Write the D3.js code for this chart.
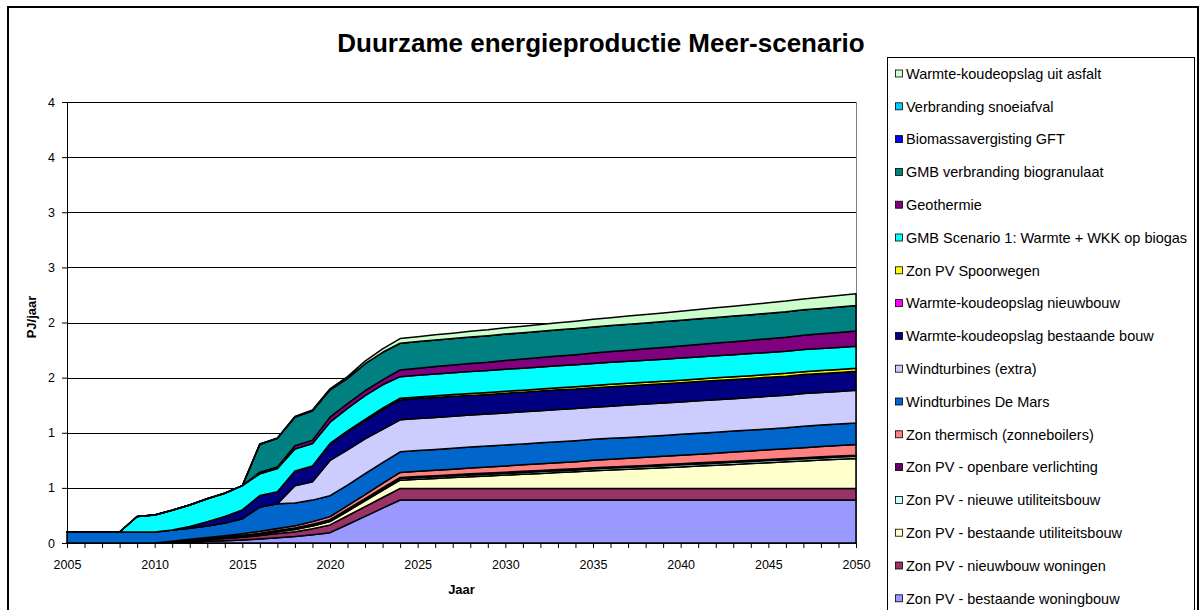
<!DOCTYPE html>
<html>
<head>
<meta charset="utf-8">
<script src="https://cdn.jsdelivr.net/npm/d3@7"></script>
<style>
  body { margin: 0; background: #fff; }
  text { font-family: "Liberation Sans", Arial, sans-serif; fill: #000; }
</style>
</head>
<body>
<div id="chart"></div>
<script>
// years on the x axis
var years = [2005, 2006, 2007, 2008, 2009, 2010, 2011, 2012, 2013, 2014, 2015, 2016, 2017, 2018, 2019,
  2020, 2021, 2022, 2023, 2024, 2025, 2026, 2027, 2028, 2029, 2030, 2031, 2032, 2033, 2034, 2035,
  2036, 2037, 2038, 2039, 2040, 2041, 2042, 2043, 2044, 2045, 2046, 2047, 2048, 2049, 2050];

// series values, PJ/jaar, bottom of the stack first
var zonPvBestaandeWoningbouw = [0, 0, 0, 0, 0, 0, 0.005, 0.01, 0.015, 0.02, 0.027, 0.037, 0.048, 0.058, 0.075,
  0.094, 0.168, 0.242, 0.316, 0.39, 0.39, 0.39, 0.39, 0.39, 0.39, 0.39, 0.39, 0.39, 0.39, 0.39, 0.39,
  0.39, 0.39, 0.39, 0.39, 0.39, 0.39, 0.39, 0.39, 0.39, 0.39, 0.39, 0.39, 0.39, 0.39, 0.39];
var zonPvNieuwbouwWoningen = [0, 0, 0, 0, 0, 0, 0.005, 0.01, 0.015, 0.02, 0.025, 0.03, 0.038, 0.045, 0.055,
  0.07, 0.079, 0.088, 0.097, 0.105, 0.105, 0.105, 0.105, 0.105, 0.105, 0.105, 0.105, 0.105, 0.105, 0.105, 0.105,
  0.105, 0.105, 0.105, 0.105, 0.105, 0.105, 0.105, 0.105, 0.105, 0.105, 0.105, 0.105, 0.105, 0.105, 0.105];
var zonPvBestaandeUtiliteit = [0, 0, 0, 0, 0, 0, 0.002, 0.004, 0.006, 0.008, 0.01, 0.013, 0.016, 0.02, 0.025,
  0.03, 0.041, 0.052, 0.064, 0.075, 0.083, 0.09, 0.098, 0.106, 0.113, 0.121, 0.128, 0.136, 0.144, 0.151, 0.16,
  0.167, 0.174, 0.181, 0.188, 0.195, 0.203, 0.21, 0.218, 0.226, 0.233, 0.241, 0.249, 0.257, 0.264, 0.272];
var zonPvNieuweUtiliteit = [0, 0, 0, 0, 0, 0, 0.001, 0.002, 0.003, 0.004, 0.005, 0.006, 0.007, 0.009, 0.01,
  0.012, 0.013, 0.013, 0.014, 0.015, 0.015, 0.015, 0.016, 0.016, 0.016, 0.016, 0.017, 0.017, 0.017, 0.017, 0.018,
  0.018, 0.018, 0.018, 0.018, 0.019, 0.019, 0.019, 0.019, 0.019, 0.02, 0.02, 0.02, 0.02, 0.02, 0.02];
var zonPvOpenbareVerlichting = [0, 0, 0, 0, 0, 0, 0.001, 0.001, 0.002, 0.002, 0.003, 0.003, 0.004, 0.004, 0.005,
  0.006, 0.007, 0.008, 0.009, 0.01, 0.01, 0.01, 0.01, 0.01, 0.01, 0.01, 0.01, 0.01, 0.01, 0.01, 0.01,
  0.01, 0.01, 0.01, 0.01, 0.01, 0.01, 0.01, 0.01, 0.01, 0.01, 0.01, 0.01, 0.01, 0.01, 0.01];
var zonThermisch = [0, 0, 0, 0, 0, 0, 0.003, 0.006, 0.009, 0.012, 0.015, 0.017, 0.019, 0.021, 0.024,
  0.027, 0.031, 0.036, 0.04, 0.045, 0.047, 0.049, 0.051, 0.053, 0.055, 0.057, 0.059, 0.061, 0.063, 0.065, 0.067,
  0.069, 0.071, 0.073, 0.075, 0.077, 0.079, 0.081, 0.083, 0.085, 0.087, 0.089, 0.091, 0.093, 0.095, 0.097];
var windturbinesDeMars = [0.1, 0.1, 0.1, 0.1, 0.1, 0.1, 0.1, 0.1, 0.105, 0.115, 0.135, 0.22, 0.225, 0.205, 0.195,
  0.19, 0.185, 0.19, 0.19, 0.187, 0.19, 0.19, 0.19, 0.19, 0.19, 0.19, 0.19, 0.19, 0.19, 0.19, 0.19,
  0.19, 0.19, 0.19, 0.19, 0.19, 0.19, 0.19, 0.19, 0.19, 0.19, 0.19, 0.195, 0.195, 0.195, 0.195];
var windturbinesExtra = [0, 0, 0, 0, 0, 0, 0, 0, 0, 0, 0, 0, 0, 0.157, 0.166,
  0.32, 0.32, 0.315, 0.3, 0.29, 0.29, 0.29, 0.29, 0.29, 0.29, 0.291, 0.291, 0.291, 0.292, 0.292, 0.292,
  0.292, 0.293, 0.293, 0.293, 0.293, 0.294, 0.294, 0.294, 0.294, 0.295, 0.295, 0.295, 0.295, 0.296, 0.296];
var wkoBestaandeBouw = [0, 0, 0, 0, 0, 0, 0, 0.016, 0.039, 0.06, 0.08, 0.105, 0.108, 0.134, 0.144,
  0.151, 0.166, 0.167, 0.18, 0.181, 0.18, 0.18, 0.18, 0.179, 0.179, 0.179, 0.178, 0.178, 0.178, 0.177, 0.177,
  0.177, 0.176, 0.176, 0.176, 0.175, 0.175, 0.175, 0.174, 0.174, 0.174, 0.173, 0.173, 0.173, 0.172, 0.172];
var wkoNieuwbouw = [0, 0, 0, 0, 0, 0, 0, 0, 0, 0, 0, 0, 0, 0, 0,
  0, 0, 0, 0, 0, 0, 0, 0, 0, 0, 0, 0, 0, 0, 0, 0,
  0, 0, 0, 0, 0, 0, 0, 0, 0, 0, 0, 0, 0, 0, 0];
var zonPvSpoorwegen = [0, 0, 0, 0, 0, 0, 0, 0, 0, 0, 0, 0, 0, 0, 0,
  0.003, 0.006, 0.01, 0.013, 0.015, 0.015, 0.016, 0.016, 0.017, 0.017, 0.018, 0.018, 0.019, 0.019, 0.02, 0.02,
  0.021, 0.021, 0.022, 0.022, 0.023, 0.023, 0.024, 0.024, 0.025, 0.025, 0.026, 0.026, 0.027, 0.027, 0.027];
var gmbWarmteWkk = [0, 0, 0, 0, 0.14, 0.154, 0.18, 0.196, 0.207, 0.21, 0.22, 0.197, 0.211, 0.2, 0.204,
  0.193, 0.205, 0.215, 0.212, 0.196, 0.197, 0.198, 0.198, 0.199, 0.199, 0.2, 0.2, 0.2, 0.2, 0.2, 0.2,
  0.2, 0.2, 0.2, 0.2, 0.2, 0.2, 0.2, 0.2, 0.2, 0.2, 0.2, 0.2, 0.2, 0.2, 0.2];
var geothermie = [0, 0, 0, 0, 0, 0, 0, 0, 0, 0, 0, 0.015, 0.013, 0.029, 0.03,
  0.046, 0.044, 0.045, 0.045, 0.061, 0.064, 0.067, 0.07, 0.073, 0.076, 0.079, 0.082, 0.085, 0.088, 0.091, 0.094,
  0.097, 0.1, 0.103, 0.106, 0.109, 0.112, 0.115, 0.118, 0.121, 0.124, 0.127, 0.13, 0.133, 0.136, 0.14];
var gmbBiogranulaat = [0, 0, 0, 0, 0, 0, 0, 0, 0, 0, 0, 0.253, 0.26, 0.261, 0.266,
  0.248, 0.228, 0.245, 0.25, 0.242, 0.241, 0.241, 0.24, 0.24, 0.24, 0.239, 0.239, 0.238, 0.238, 0.237, 0.237,
  0.236, 0.236, 0.235, 0.235, 0.234, 0.234, 0.233, 0.233, 0.232, 0.232, 0.231, 0.231, 0.23, 0.23, 0.23];
var biomassavergistingGft = [0, 0, 0, 0, 0, 0, 0, 0, 0, 0, 0, 0, 0, 0, 0,
  0, 0, 0, 0, 0, 0, 0, 0, 0, 0, 0, 0, 0, 0, 0, 0,
  0, 0, 0, 0, 0, 0, 0, 0, 0, 0, 0, 0, 0, 0, 0];
var verbrandingSnoeiafval = [0, 0, 0, 0, 0, 0, 0, 0, 0, 0, 0, 0, 0, 0, 0,
  0, 0, 0, 0, 0, 0, 0, 0, 0, 0, 0, 0, 0, 0, 0, 0,
  0, 0, 0, 0, 0, 0, 0, 0, 0, 0, 0, 0, 0, 0, 0];
var wkoAsfalt = [0, 0, 0, 0, 0, 0, 0, 0, 0, 0, 0, 0.003, 0.004, 0.005, 0.007,
  0.009, 0.016, 0.024, 0.031, 0.042, 0.044, 0.047, 0.049, 0.052, 0.054, 0.057, 0.059, 0.062, 0.064, 0.067, 0.069,
  0.072, 0.074, 0.077, 0.079, 0.082, 0.084, 0.087, 0.089, 0.092, 0.094, 0.097, 0.099, 0.102, 0.104, 0.106];

var seriesNames = ["Zon PV - bestaande woningbouw", "Zon PV - nieuwbouw woningen",
  "Zon PV - bestaande utiliteitsbouw", "Zon PV - nieuwe utiliteitsbouw", "Zon PV - openbare verlichting",
  "Zon thermisch (zonneboilers)", "Windturbines De Mars", "Windturbines (extra)",
  "Warmte-koudeopslag bestaande bouw", "Warmte-koudeopslag nieuwbouw", "Zon PV Spoorwegen",
  "GMB Scenario 1: Warmte + WKK op biogas", "Geothermie", "GMB verbranding biogranulaat",
  "Biomassavergisting GFT", "Verbranding snoeiafval", "Warmte-koudeopslag uit asfalt"];
var seriesValues = [zonPvBestaandeWoningbouw, zonPvNieuwbouwWoningen, zonPvBestaandeUtiliteit,
  zonPvNieuweUtiliteit, zonPvOpenbareVerlichting, zonThermisch, windturbinesDeMars, windturbinesExtra,
  wkoBestaandeBouw, wkoNieuwbouw, zonPvSpoorwegen, gmbWarmteWkk, geothermie, gmbBiogranulaat,
  biomassavergistingGft, verbrandingSnoeiafval, wkoAsfalt];
var seriesColors = ["#9999ff", "#993366", "#ffffcc", "#ccffff", "#660066", "#ff8080", "#0066cc", "#ccccff",
  "#000080", "#ff00ff", "#ffff00", "#00ffff", "#800080", "#008080", "#0000ff", "#00ccff", "#ccffcc"];

var yTicks = [0, 0.5, 1, 1.5, 2, 2.5, 3, 3.5, 4];
var yTickLabels = ["0", "1", "1", "2", "2", "3", "3", "4", "4"];
var xLabelYears = [2005, 2010, 2015, 2020, 2025, 2030, 2035, 2040, 2045, 2050];

var svgWidth = 1203;
var svgHeight = 610;
var margin = { top: 102, right: 347, bottom: 67, left: 67 };
var width = svgWidth - margin.left - margin.right;   // 789
var height = svgHeight - margin.top - margin.bottom; // 441

var svg = d3.select("#chart").append("svg")
  .attr("width", svgWidth)
  .attr("height", svgHeight);

// outer chart frame
svg.append("rect")
  .attr("x", 8).attr("y", 7)
  .attr("width", 1190).attr("height", 640)
  .attr("fill", "none")
  .attr("stroke", "#000")
  .attr("stroke-width", 2);

svg.append("text")
  .attr("x", 601)
  .attr("y", 52)
  .attr("text-anchor", "middle")
  .style("font-size", "26px")
  .style("font-weight", "bold")
  .text("Duurzame energieproductie Meer-scenario");

var chart = svg.append("g")
  .attr("transform", `translate(${margin.left}, ${margin.top})`);

var xScale = d3.scaleLinear().domain([2005, 2050]).range([0, width]);
var yScale = d3.scaleLinear().domain([0, 4]).range([height, 0]);

// gridlines
chart.append("g")
  .selectAll("line")
  .data(yTicks.slice(1))
  .enter().append("line")
  .attr("x1", 0).attr("x2", width)
  .attr("y1", d => Math.round(yScale(d)) + 0.5)
  .attr("y2", d => Math.round(yScale(d)) + 0.5)
  .attr("stroke", "#000")
  .attr("stroke-width", 1);

// plot area right border
chart.append("line")
  .attr("x1", width + 0.5).attr("x2", width + 0.5)
  .attr("y1", 0).attr("y2", height)
  .attr("stroke", "#808080");

// stacked data
var rows = years.map(function(yr, i) {
  var r = { year: yr };
  seriesNames.forEach(function(name, k) { r[name] = seriesValues[k][i]; });
  return r;
});
var stacked = d3.stack().keys(seriesNames)(rows);

var area = d3.area()
  .x(d => xScale(d.data.year))
  .y0(d => yScale(d[0]))
  .y1(d => yScale(d[1]));

chart.append("g")
  .selectAll("path")
  .data(stacked)
  .enter().append("path")
  .attr("d", area)
  .attr("fill", (d, i) => seriesColors[i])
  .attr("stroke", "#000")
  .attr("stroke-width", 1.5)
  .attr("stroke-linejoin", "round");

// axes
var leftAxis = d3.axisLeft(yScale)
  .tickValues(yTicks)
  .tickSize(5)
  .tickPadding(7)
  .tickFormat((d, i) => yTickLabels[i]);

var bottomAxis = d3.axisBottom(xScale)
  .tickValues(years)
  .tickSize(5)
  .tickPadding(12)
  .tickFormat(d => xLabelYears.indexOf(d) >= 0 ? String(d) : "");

var yAxisG = chart.append("g").call(leftAxis);
var xAxisG = chart.append("g")
  .attr("transform", `translate(0, ${height})`)
  .call(bottomAxis);

[yAxisG, xAxisG].forEach(function(g) {
  g.select(".domain").attr("stroke", "#000");
  g.selectAll(".tick line").attr("stroke", "#000");
  g.selectAll(".tick text")
    .style("font-family", '"Liberation Sans", Arial, sans-serif')
    .style("font-size", "12.5px")
    .attr("fill", "#000");
});

// axis titles
chart.append("text")
  .attr("transform", "rotate(-90)")
  .attr("x", -215)
  .attr("y", 36 - margin.left)
  .attr("text-anchor", "middle")
  .style("font-size", "13px")
  .style("font-weight", "bold")
  .text("PJ/jaar");

chart.append("text")
  .attr("x", width / 2)
  .attr("y", height + 51)
  .attr("text-anchor", "middle")
  .style("font-size", "13px")
  .style("font-weight", "bold")
  .text("Jaar");

// legend, top entry is the last series
var legend = svg.append("g");
legend.append("rect")
  .attr("x", 887.5).attr("y", 57.5)
  .attr("width", 307).attr("height", 600)
  .attr("fill", "#fff")
  .attr("stroke", "#000")
  .attr("stroke-width", 1);

var legendItems = legend.selectAll("g.item")
  .data(seriesNames.map((n, i) => ({ name: n, color: seriesColors[i] })).reverse())
  .enter().append("g")
  .attr("class", "item")
  .attr("transform", (d, i) => `translate(0, ${73.5 + i * 32.8})`);

legendItems.append("rect")
  .attr("x", 895.5).attr("y", -3.5)
  .attr("width", 7).attr("height", 7)
  .attr("fill", d => d.color)
  .attr("stroke", "#000")
  .attr("stroke-width", 0.8);

legendItems.append("text")
  .attr("x", 906)
  .attr("y", 0)
  .attr("dy", "0.36em")
  .style("font-size", "14.5px")
  .text(d => d.name);
</script>
</body>
</html>
